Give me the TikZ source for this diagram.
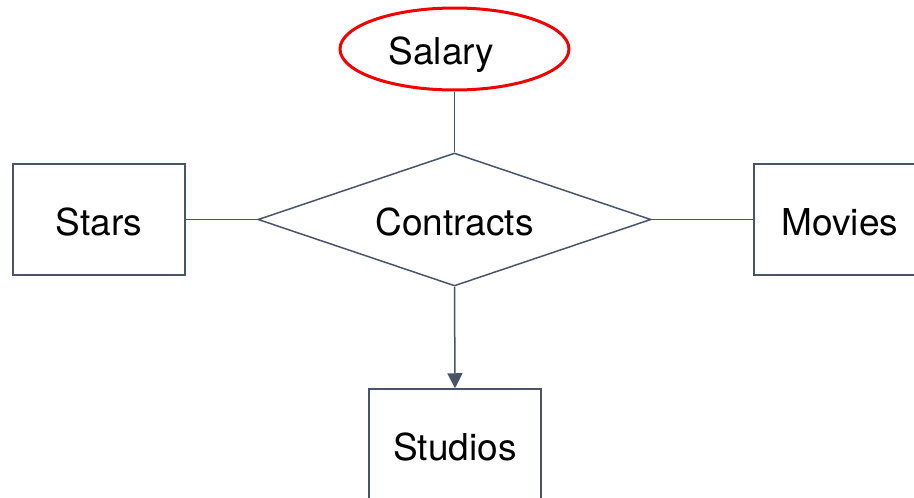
\documentclass[tikz,border=0pt]{standalone}
\usepackage{fontspec}
\setmainfont{TeX Gyre Heros}
\usetikzlibrary{shapes.geometric,arrows.meta}
\definecolor{edge}{RGB}{72,84,104}
\definecolor{attr}{RGB}{240,0,0}
\tikzset{
  entity/.style={draw=edge, line width=1.5pt, minimum width=172pt, minimum height=111pt, inner sep=0pt},
  relation/.style={draw=edge, line width=1.5pt, diamond, aspect=2.955, minimum width=393pt, minimum height=133pt, inner sep=0pt},
  attribute/.style={draw=attr, line width=3pt, ellipse, minimum width=229pt, minimum height=82pt, inner sep=0pt},
  link/.style={draw=edge, line width=1.5pt},
  every node/.style={font=\fontsize{37}{44}\selectfont, text height=31pt, text depth=0pt}
}
\begin{document}
\begin{tikzpicture}[x=1pt, y=-1pt]
  \useasboundingbox (0,0) rectangle (914,498);
  \node[attribute] (salary) at (454.5,49) {\hspace*{-26pt}Salary};
  \node[relation] (contracts) at (454.5,219.5) {Contracts};
  \node[entity] (stars) at (99,219.5) {Stars};
  \node[entity] (movies) at (840,219.5) {Movies};
  \node[entity] (studios) at (455,444.5) {Studios};
  \draw[link] (salary.south) -- (contracts.north);
  \draw[link] (stars.east) -- (contracts.west);
  \draw[link] (contracts.east) -- (movies.west);
  \draw[link, -{Triangle[width=15pt,length=15pt]}] (contracts.south) -- (studios.north);
\end{tikzpicture}
\end{document}
